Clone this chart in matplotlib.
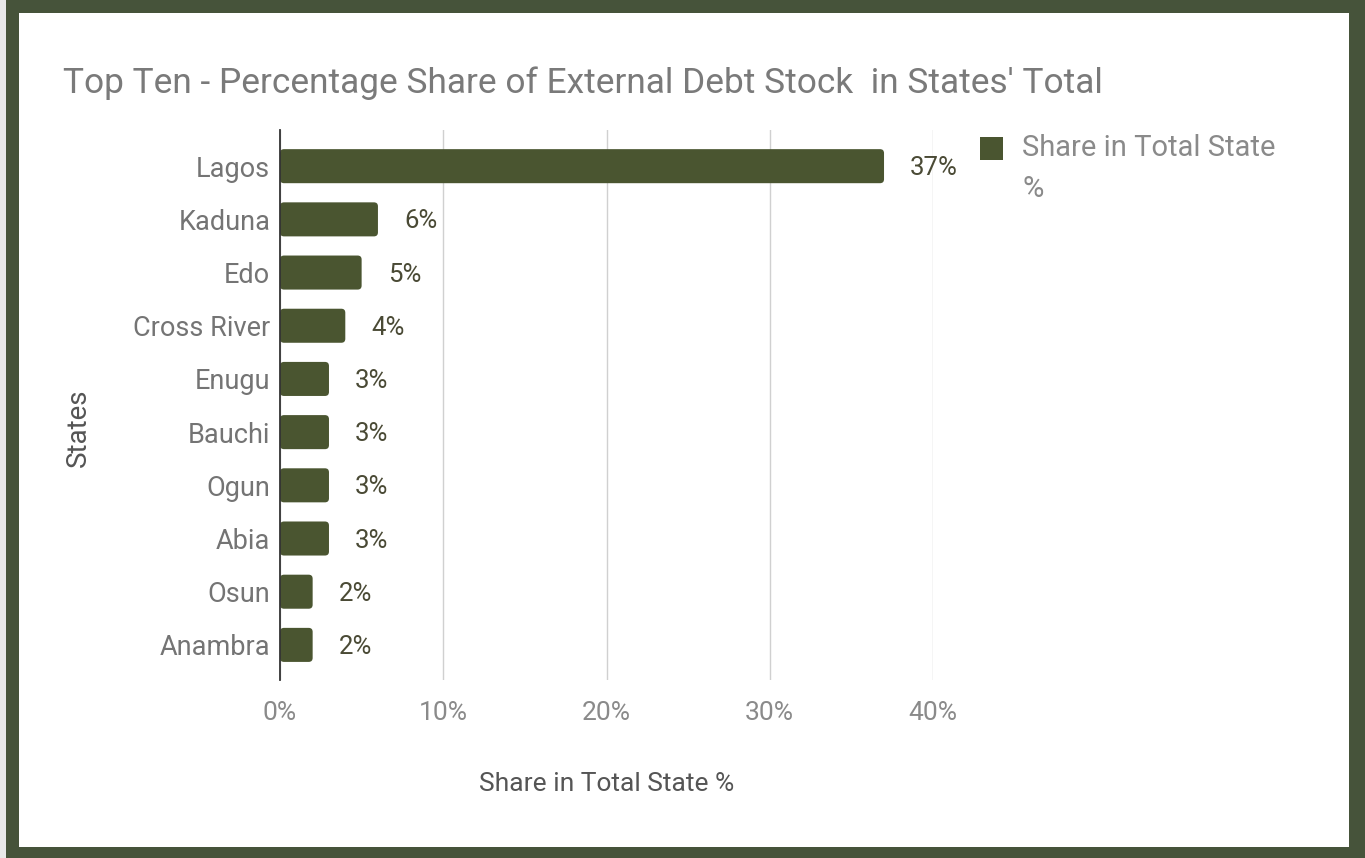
import matplotlib
matplotlib.use("Agg")
import matplotlib.pyplot as plt
from matplotlib.patches import FancyBboxPatch, Rectangle

plt.rcParams['font.family'] = ['Roboto', 'DejaVu Sans']

states = ["Lagos", "Kaduna", "Edo", "Cross River", "Enugu", "Bauchi", "Ogun", "Abia", "Osun", "Anambra"]
shares = [37, 6, 5, 4, 3, 3, 3, 3, 2, 2]
value_labels = ["37%", "6%", "5%", "4%", "3%", "3%", "3%", "3%", "2%", "2%"]
x_ticks = [0, 10, 20, 30, 40]
x_tick_labels = ["0%", "10%", "20%", "30%", "40%"]

title = "Top Ten - Percentage Share of External Debt Stock  in States' Total"
legend_label = "Share in Total State\n%"
x_label = "Share in Total State %"
y_label = "States"

bar_color = "#4a5530"
border_color = "#46533a"

W, H = 1365, 858
fig = plt.figure(figsize=(W / 100, H / 100), dpi=100)
fig.patch.set_facecolor("white")

# border frame
fig.add_artist(Rectangle((0, 0), 1, 1, transform=fig.transFigure, facecolor=border_color,
                         edgecolor="none", zorder=-10))
fig.add_artist(Rectangle((19 / W, 1 - 847 / H), (1349 - 19) / W, (847 - 13) / H,
                         transform=fig.transFigure, facecolor="white", edgecolor="none", zorder=-9))
fig.add_artist(Rectangle((0, 0), 6 / W, 1, transform=fig.transFigure, facecolor="#e8e8e8",
                         edgecolor="none", zorder=-8))

left, right, top, bottom = 280, 933, 130, 680
ax = fig.add_axes([left / W, 1 - bottom / H, (right - left) / W, (bottom - top) / H])
ax.set_facecolor("none")

ypos = list(range(len(states)))
bars = ax.barh(ypos, shares, height=0.64, color=bar_color)
ax.set_xlim(0, 40)
ax.set_ylim(9.66, -0.68)

# rounded bars
xpp = 40 / (right - left)
ypp = (9.66 + 0.68) / (bottom - top)
aspect = ypp / xpp
for b in bars:
    x0, y0, w, h = b.get_x(), b.get_y(), b.get_width(), b.get_height()
    b.set_visible(False)
    r = 4 * xpp
    p = FancyBboxPatch((x0, y0), w, h, boxstyle=f"round,pad=0,rounding_size={r}",
                       mutation_aspect=aspect, facecolor=bar_color, edgecolor="none",
                       zorder=3, clip_on=False)
    ax.add_patch(p)

for y, v, lab in zip(ypos, shares, value_labels):
    ax.text(v + 26 * xpp, y + 0.04, lab, va="center", ha="left", fontsize=18.5,
            color="#4a4a35", zorder=4)

ax.set_xticks(x_ticks)
ax.set_xticklabels(x_tick_labels, fontsize=19, color="#8a8a8a")
ax.set_yticks(ypos)
ax.set_yticklabels(states, fontsize=19.5, color="#747474")
ax.tick_params(axis="both", length=0)
ax.tick_params(axis="x", pad=15)
ax.tick_params(axis="y", pad=7)
ax.grid(axis="x", color="#d0d0d0", linewidth=1.0, zorder=0)
ax.set_axisbelow(True)
for s in ["top", "right", "bottom"]:
    ax.spines[s].set_visible(False)
ax.spines["left"].set_color("#333333")
ax.spines["left"].set_linewidth(1.3)
ax.spines["left"].set_zorder(5)

ax.set_xlabel(x_label, fontsize=19, color="#555555", labelpad=34)
fig.text(78 / W, 1 - 428 / H, y_label, rotation=90, va="center", ha="center",
         fontsize=20, color="#555555")

fig.text(63 / W, 1 - 83 / H, title, fontsize=25.4, color="#7a7a7a", va="center", ha="left")

# legend
fig.add_artist(Rectangle((980 / W, 1 - 160 / H), 23 / W, 23 / H, transform=fig.transFigure,
                         facecolor=bar_color, edgecolor="none"))
fig.text(1022 / W, 1 - 134 / H, legend_label, fontsize=21, color="#8a8a8a",
         va="top", ha="left", linespacing=1.6)

fig.savefig("out.png", dpi=100, facecolor=fig.get_facecolor())
